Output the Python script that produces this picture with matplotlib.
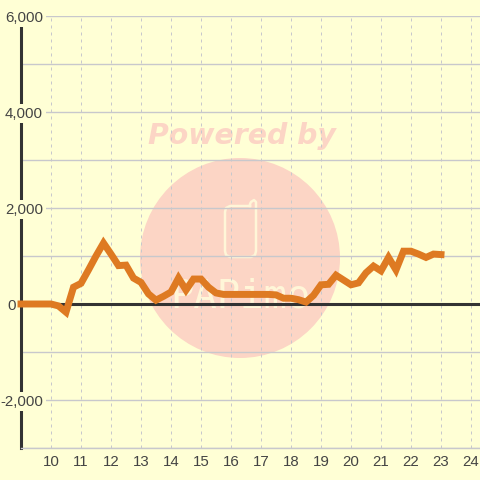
import matplotlib
matplotlib.use("Agg")
import matplotlib.pyplot as plt
from matplotlib.lines import Line2D
from matplotlib.patches import Circle

# readings every 15 minutes from 9:00 to 23:00
hours = [
    9.0, 9.25, 9.5, 9.75, 10.0, 10.25, 10.5, 10.75, 11.0, 11.25, 11.5, 11.75,
    12.0, 12.25, 12.5, 12.75, 13.0, 13.25, 13.5, 13.75, 14.0, 14.25, 14.5, 14.75,
    15.0, 15.25, 15.5, 15.75, 16.0, 16.25, 16.5, 16.75, 17.0, 17.25, 17.5, 17.75,
    18.0, 18.25, 18.5, 18.75, 19.0, 19.25, 19.5, 19.75, 20.0, 20.25, 20.5, 20.75,
    21.0, 21.25, 21.5, 21.75, 22.0, 22.25, 22.5, 22.75, 23.0,
]
values = [
    0, 0, 0, 0, 0, -40, -170, 350, 430, 710, 1000, 1270,
    1040, 800, 810, 540, 450, 210, 80, 160, 250, 540, 290, 520,
    520, 350, 230, 200, 200, 200, 200, 200, 200, 200, 190, 120,
    120, 90, 40, 180, 400, 410, 600, 500, 400, 440, 650, 790,
    690, 970, 710, 1100, 1100, 1040, 970, 1040, 1030,
]
x_ticks = list(range(10, 25))
y_major = [-2000, 0, 2000, 4000, 6000]
y_minor = [-3000, -1000, 1000, 3000, 5000]
y_labels = ["-2,000", "0", "2,000", "4,000", "6,000"]

BG = "#FFFFD5"
GRID = "#C8C8CC"
DARK = "#333333"
ORANGE = "#DE7A22"
PINK = "#FCD5C5"
CREAM = "#FFF6D8"

plt.rcParams["font.family"] = ["Liberation Sans", "DejaVu Sans"]

W = 480
fig = plt.figure(figsize=(4.8, 4.8), dpi=100, facecolor=BG)


def fx(px):
    return px / W


def fy(px):
    return 1 - px / W


# watermark sits behind the plot
fig.add_artist(Circle((fx(240), fy(258)), 100 / W, transform=fig.transFigure, fc=PINK, ec="none", zorder=-3))
phone_x = [250, 230, 226, 225, 225, 226, 230, 251, 255, 256, 256, 254, 251, 250, 250]
phone_y = [206, 206, 208, 212, 251, 255, 257, 257, 255, 251, 202, 200, 202, 204, 206]
fig.add_artist(Line2D([fx(p) for p in phone_x], [fy(p) for p in phone_y], transform=fig.transFigure,
                      color=CREAM, lw=1.8, solid_joinstyle="round", zorder=-2))
fig.text(fx(242), fy(136), "Powered by", color=PINK, fontsize=20.4, fontweight="bold", fontstyle="italic",
         family="DejaVu Sans", ha="center", va="center", zorder=-2)
fig.text(fx(240), fy(307), "PAPimo", color=CREAM, fontsize=28, family="DejaVu Sans Mono",
         ha="center", va="baseline", zorder=-2)

ax = fig.add_axes([fx(21), 1 - 448 / W, 1 - 21 / W, (448 - 16) / W])
ax.patch.set_alpha(0)
ax.set_xlim(9, 9 + (W - 21) / 30)
ax.set_ylim(-3000, 6000)

ax.set_xticks(x_ticks)
ax.set_yticks(y_major)
ax.set_yticks(y_minor, minor=True)
ax.set_yticklabels([])
ax.grid(True, axis="x", color=GRID, lw=0.72, ls=(0, (3, 4)), zorder=0.5)
ax.grid(True, axis="y", which="both", color=GRID, lw=1, ls="-", zorder=0.5)
ax.set_axisbelow(True)
ax.tick_params(axis="x", length=0, pad=5, labelsize=10.8, labelcolor="#444444")
ax.tick_params(axis="y", which="both", length=0)

for side in ["top", "right"]:
    ax.spines[side].set_visible(False)
ax.spines["bottom"].set_color(GRID)
ax.spines["bottom"].set_linewidth(1)
ax.spines["left"].set_color(DARK)
ax.spines["left"].set_linewidth(2.2)
ax.spines["left"].set_zorder(1)

ax.axhline(0, color=DARK, lw=2.2, zorder=1)

# y labels sit on top of the axis line with a background box
ytrans = ax.get_yaxis_transform()
for v, lab in zip(y_major, y_labels):
    if lab == "0":
        xpos = (16 - 21) / (W - 21)
    else:
        xpos = (43 - 21) / (W - 21)
    ax.text(xpos, v, lab, transform=ytrans, ha="right", va="center_baseline", fontsize=10.8, color="#444444",
            clip_on=False, zorder=2,
            bbox=dict(fc=BG, ec="none", pad=1.8) if lab != "0" else None)

ax.plot(hours, values, color=ORANGE, lw=5, solid_joinstyle="miter", solid_capstyle="projecting",
        clip_on=False, zorder=3)

fig.savefig("out.png", dpi=100, facecolor=BG)
